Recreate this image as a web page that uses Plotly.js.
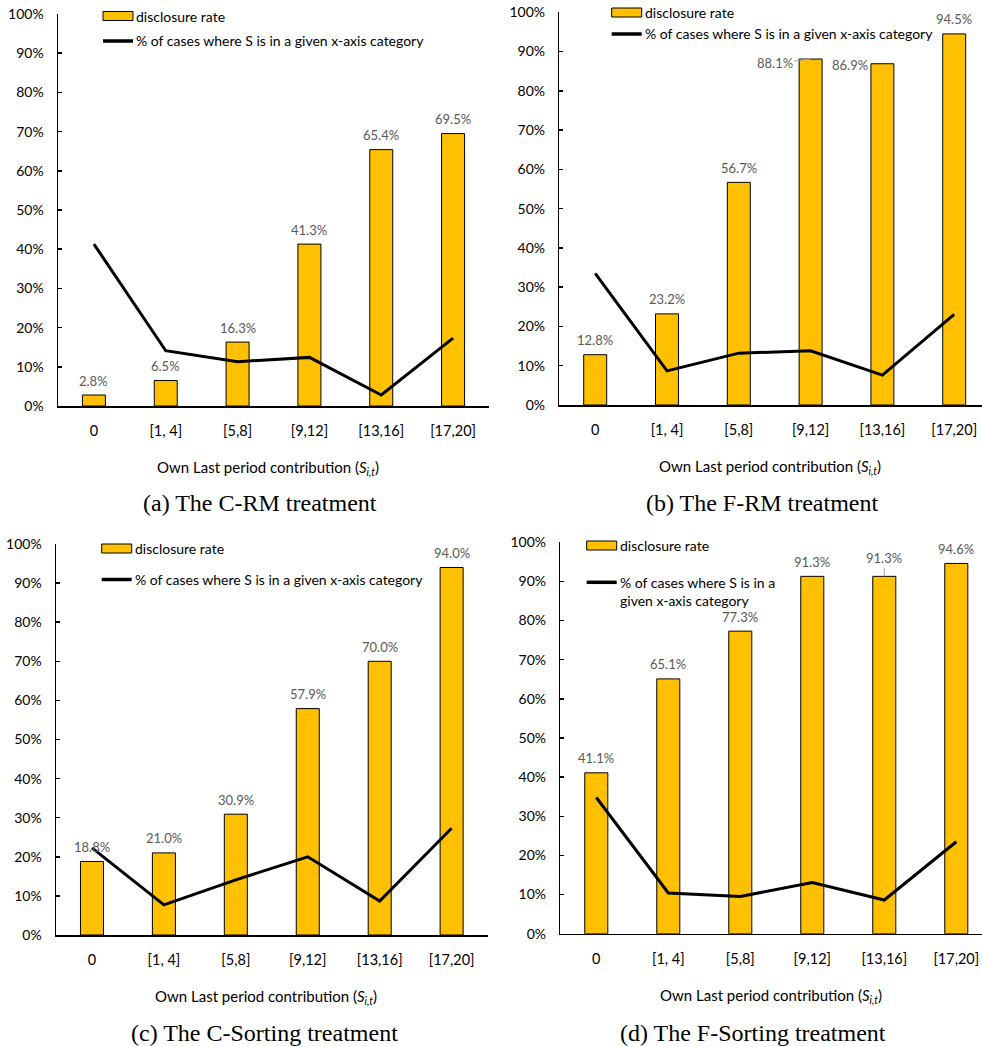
<!DOCTYPE html>
<html>
<head>
<meta charset="utf-8">
<script src="https://cdn.plot.ly/plotly-3.0.1.min.js"></script>
<style>
  html, body { margin: 0; padding: 0; background: #fff; }
  #chart { width: 982px; height: 1047px; }
</style>
</head>
<body>
<div id="chart"></div>
<script>
// categories of own last period contribution
const categories = ['0', '[1, 4]', '[5,8]', '[9,12]', '[13,16]', '[17,20]']

// disclosure rate (bars)
const disclosureCRM = [0.028, 0.065, 0.163, 0.413, 0.654, 0.695]
const disclosureFRM = [0.128, 0.232, 0.567, 0.881, 0.869, 0.945]
const disclosureCSort = [0.188, 0.210, 0.309, 0.579, 0.700, 0.940]
const disclosureFSort = [0.411, 0.651, 0.773, 0.913, 0.913, 0.946]

// % of cases where S is in a given x-axis category (line)
const shareCRM = [0.413, 0.141, 0.113, 0.124, 0.028, 0.173]
const shareFRM = [0.335, 0.087, 0.132, 0.138, 0.076, 0.231]
const shareCSort = [0.223, 0.077, 0.141, 0.200, 0.087, 0.273]
const shareFSort = [0.348, 0.104, 0.095, 0.131, 0.086, 0.235]

const yTickVals = [0, 0.1, 0.2, 0.3, 0.4, 0.5, 0.6, 0.7, 0.8, 0.9, 1]
const yTickText = ['0%', '10%', '20%', '30%', '40%', '50%', '60%', '70%', '80%', '90%', '100%']

const barName = 'disclosure rate'
const lineName = '% of cases where S is in a given x-axis category'
const xTitle = 'Own Last period contribution (<i>S</i><sub><i>i,t</i></sub>)'

const W = 982
const H = 1047
const px = x => x / W
const py = y => 1 - y / H

const FONT = 'Lato, "Noto Sans", sans-serif'
const SERIF = '"Liberation Serif", "DejaVu Serif", serif'

const panels = [
  {
    id: '', bars: disclosureCRM, share: shareCRM,
    caption: '(a) The C-RM treatment',
    xdom: [58, 489], ydom: [14, 406], xmax: 5.5,
    titlePos: [268, 468], capPos: [260, 503],
    legend: { left: 103, barY: 16, lineY: 41, text: lineName },
    labelFix: {},
  },
  {
    id: '2', bars: disclosureFRM, share: shareFRM,
    caption: '(b) The F-RM treatment',
    xdom: [559.3, 982], ydom: [12.3, 405], xmax: -0.5 + 422.7 / 71.8,
    titlePos: [769.5, 467], capPos: [762.5, 503],
    legend: { left: 611.7, barY: 12.5, lineY: 34, text: lineName },
    labelFix: { 3: { ax: -36, ay: 4, leader: true }, 4: { xshift: -32, yshift: -1 } },
  },
  {
    id: '3', bars: disclosureCSort, share: shareCSort,
    caption: '(c) The C-Sorting treatment',
    xdom: [56, 487.6], ydom: [544, 935], xmax: 5.5,
    titlePos: [266.3, 996.7], capPos: [264.5, 1033],
    legend: { left: 101.7, barY: 548.5, lineY: 579.5, text: lineName },
    labelFix: {},
  },
  {
    id: '4', bars: disclosureFSort, share: shareFSort,
    caption: '(d) The F-Sorting treatment',
    xdom: [560.3, 982], ydom: [542.3, 933.7], xmax: -0.5 + 421.7 / 72,
    titlePos: [771, 995.7], capPos: [753, 1033],
    legend: { left: 586.7, barY: 545.5, lineY: 582.3, text: '% of cases where S is in a<br>given x-axis category', twoLine: true },
    labelFix: { 4: { ax: 0, ay: -18, leader: true } },
  },
]

const data = []
const annotations = []
const shapes = []
const layout = {
  width: W,
  height: H,
  margin: { l: 0, r: 0, t: 0, b: 0 },
  showlegend: false,
  paper_bgcolor: '#ffffff',
  plot_bgcolor: 'rgba(0,0,0,0)',
  font: { family: FONT, size: 14, color: '#000000' },
}

panels.forEach(p => {
  const xa = 'x' + p.id
  const ya = 'y' + p.id

  data.push({
    type: 'bar',
    x: categories,
    y: p.bars,
    xaxis: xa,
    yaxis: ya,
    name: barName,
    width: 0.32,
    marker: { color: '#FFC000', line: { color: '#000000', width: 1 } },
    hoverinfo: 'skip',
  })
  data.push({
    type: 'scatter',
    mode: 'lines',
    x: categories,
    y: p.share,
    xaxis: xa,
    yaxis: ya,
    name: lineName,
    line: { color: '#000000', width: 3 },
    hoverinfo: 'skip',
  })

  layout['xaxis' + p.id] = {
    domain: [px(p.xdom[0]), px(p.xdom[1])],
    anchor: ya,
    type: 'category',
    range: [-0.5, p.xmax],
    showline: true,
    linecolor: '#000000',
    linewidth: 1.5,
    showgrid: false,
    zeroline: false,
    ticks: '',
    ticklabelstandoff: 11,
    tickfont: { family: FONT, size: 14.5, color: '#000000' },
    fixedrange: true,
  }
  layout['yaxis' + p.id] = {
    domain: [py(p.ydom[1]), py(p.ydom[0])],
    anchor: xa,
    range: [0, 1],
    tickvals: yTickVals,
    ticktext: yTickText,
    showline: true,
    linecolor: '#000000',
    linewidth: 1.5,
    ticks: 'inside',
    ticklen: 4,
    tickwidth: 1.5,
    tickcolor: '#000000',
    ticklabelstandoff: 10,
    showgrid: false,
    zeroline: false,
    tickfont: { family: FONT, size: 14, color: '#000000' },
    fixedrange: true,
  }

  // value labels above bars
  p.bars.forEach((v, i) => {
    const fix = p.labelFix[i] || {}
    const ann = {
      xref: xa,
      yref: ya,
      x: categories[i],
      y: v,
      text: (v * 100).toFixed(1) + '%',
      font: { family: FONT, size: 13, color: '#595959' },
      showarrow: false,
      yanchor: 'middle',
      xanchor: 'center',
      yshift: 14.5,
    }
    if (fix.leader) {
      Object.assign(ann, {
        showarrow: true, arrowhead: 0, arrowwidth: 1, arrowcolor: '#a6a6a6',
        ax: fix.ax, ay: fix.ay, yshift: 0, standoff: 0,
      })
    } else {
      if (fix.xshift !== undefined) ann.xshift = fix.xshift
      if (fix.yshift !== undefined) ann.yshift = fix.yshift
    }
    annotations.push(ann)
  })

  // x axis title
  annotations.push({
    xref: 'paper', yref: 'paper',
    x: px(p.titlePos[0]), y: py(p.titlePos[1]),
    text: xTitle,
    showarrow: false,
    xanchor: 'center', yanchor: 'middle',
    font: { family: FONT, size: 15, color: '#000000' },
  })

  // panel caption
  annotations.push({
    xref: 'paper', yref: 'paper',
    x: px(p.capPos[0]), y: py(p.capPos[1]),
    text: p.caption,
    showarrow: false,
    xanchor: 'center', yanchor: 'middle',
    font: { family: SERIF, size: 24, color: '#000000' },
  })

  // legend
  const lg = p.legend
  shapes.push({
    type: 'rect', xref: 'paper', yref: 'paper',
    x0: px(lg.left), x1: px(lg.left + 30),
    y0: py(lg.barY - 4.5), y1: py(lg.barY + 4.5),
    fillcolor: '#FFC000', line: { color: '#000000', width: 1 },
  })
  shapes.push({
    type: 'line', xref: 'paper', yref: 'paper',
    x0: px(lg.left), x1: px(lg.left + 30),
    y0: py(lg.lineY), y1: py(lg.lineY),
    line: { color: '#000000', width: 3.5 },
  })
  annotations.push({
    xref: 'paper', yref: 'paper',
    x: px(lg.left + 31), y: py(lg.barY),
    text: barName,
    showarrow: false,
    xanchor: 'left', yanchor: 'middle',
    font: { family: FONT, size: 14, color: '#000000' },
  })
  annotations.push({
    xref: 'paper', yref: 'paper',
    x: px(lg.left + 31), y: py(lg.twoLine ? lg.lineY - 10 : lg.lineY),
    text: lg.text,
    showarrow: false,
    align: 'left',
    xanchor: 'left', yanchor: lg.twoLine ? 'top' : 'middle',
    font: { family: FONT, size: 14, color: '#000000' },
  })
})

layout.annotations = annotations
layout.shapes = shapes

const config = {
  staticPlot: true,
  displayModeBar: false,
  displaylogo: false,
}

Plotly.newPlot('chart', data, layout, config)
</script>
</body>
</html>
